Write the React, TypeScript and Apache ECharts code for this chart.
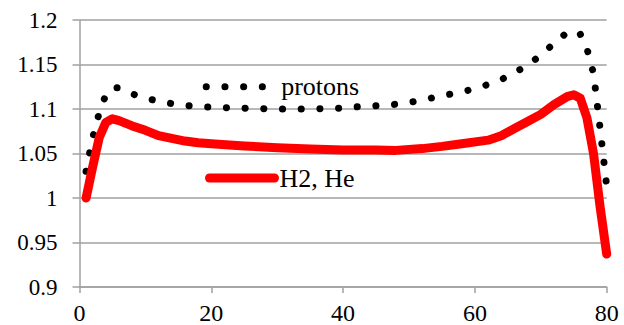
import React, { useEffect, useRef } from "react";
import * as echarts from "echarts";

const protonsX = [1, 2, 3, 4, 5, 6, 8, 10, 12, 14, 16, 20, 25, 30, 35, 40, 43, 46, 49, 52, 55, 58, 61, 64, 67, 70, 72, 74, 75, 76, 77, 78, 79, 80];
const protonsY = [1.03, 1.068, 1.096, 1.116, 1.124, 1.124, 1.117, 1.112, 1.109, 1.106, 1.104, 1.102, 1.101, 1.1, 1.1, 1.101, 1.103, 1.104, 1.106, 1.11, 1.115, 1.119, 1.125, 1.133, 1.145, 1.16, 1.174, 1.186, 1.188, 1.184, 1.168, 1.14, 1.078, 1.013];

const heX = [1, 2, 3, 4, 5, 6, 8, 10, 12, 14, 16, 18, 20, 25, 30, 35, 40, 45, 48, 52, 55, 58, 62, 64, 66, 68, 70, 72, 74, 75, 76, 77, 78, 79, 80];
const heY = [1.0, 1.035, 1.068, 1.085, 1.089, 1.087, 1.081, 1.076, 1.07, 1.067, 1.064, 1.062, 1.061, 1.0585, 1.0565, 1.055, 1.054, 1.054, 1.0535, 1.0555, 1.058, 1.061, 1.065, 1.07, 1.078, 1.086, 1.094, 1.105, 1.114, 1.116, 1.112, 1.09, 1.05, 0.99, 0.937];

const seriesNames = ["protons", "H2, He"];
const xTicks = [0, 20, 40, 60, 80];
const yTicks = [0.9, 0.95, 1, 1.05, 1.1, 1.15, 1.2];

const FONT = "Liberation Serif, Times New Roman, serif";
const GRID_COLOR = "#a0a0a0";

export default function App() {
  const ref = useRef<HTMLDivElement>(null);
  useEffect(() => {
    if (!ref.current) return;
    const chart = echarts.init(ref.current, null, { renderer: "svg" });
    chart.setOption({
      animation: false,
      grid: { left: 79.5, right: 17.3, top: 20, bottom: 37.3 },
      xAxis: {
        type: "value",
        min: xTicks[0],
        max: xTicks[xTicks.length - 1],
        interval: 20,
        axisLine: { show: true, lineStyle: { color: GRID_COLOR, width: 1.5 } },
        axisTick: { show: true, length: 6, lineStyle: { color: GRID_COLOR, width: 1.5 } },
        splitLine: { show: false },
        axisLabel: {
          fontFamily: FONT,
          fontSize: 24,
          color: "#000",
          margin: 14,
          formatter: "{a|{value}}",
          rich: { a: { fontFamily: FONT, fontSize: 24, color: "#000" } },
        },
      },
      yAxis: {
        type: "value",
        min: yTicks[0],
        max: yTicks[yTicks.length - 1],
        interval: 0.05,
        axisLine: { show: true, lineStyle: { color: GRID_COLOR, width: 1.5 } },
        axisTick: { show: true, length: 7, lineStyle: { color: GRID_COLOR, width: 1.5 } },
        splitLine: { show: true, lineStyle: { color: GRID_COLOR, width: 1.5 } },
        axisLabel: {
          fontFamily: FONT,
          fontSize: 23,
          color: "#000",
          margin: 22,
          formatter: "{a|{value}}",
          rich: { a: { fontFamily: FONT, fontSize: 23, color: "#000" } },
        },
      },
      legend: [
        {
          data: [seriesNames[0]],
          left: 202.7,
          top: 73.7,
          padding: 0,
          itemWidth: 70,
          itemHeight: 14,
          selectedMode: false,
          lineStyle: { width: 7 },
          itemStyle: { opacity: 0, color: "rgba(0,0,0,0)", borderWidth: 0 },
          textStyle: { fontFamily: FONT, fontSize: 26, color: "#000" },
        },
        {
          data: [seriesNames[1]],
          left: 205,
          top: 165,
          padding: 0,
          itemWidth: 65,
          itemHeight: 14,
          selectedMode: false,
          lineStyle: { width: 9 },
          itemStyle: { opacity: 0, color: "rgba(0,0,0,0)", borderWidth: 0 },
          textStyle: { fontFamily: FONT, fontSize: 26, color: "#000" },
        },
      ],
      series: [
        {
          name: seriesNames[0],
          type: "line",
          symbol: "none",
          showSymbol: false,
          data: protonsX.map((x, i) => [x, protonsY[i]]),
          lineStyle: { color: "#000", width: 7, type: [0.1, 18.6], cap: "round", join: "round" },
          itemStyle: { color: "#000" },
        },
        {
          name: seriesNames[1],
          type: "line",
          symbol: "none",
          showSymbol: false,
          data: heX.map((x, i) => [x, heY[i]]),
          lineStyle: { color: "#ff0000", width: 9, cap: "round", join: "round" },
          itemStyle: { color: "#ff0000" },
        },
      ],
    });
    return () => chart.dispose();
  }, []);
  return <div ref={ref} style={{ width: 624, height: 325, position: "absolute", left: 0, top: 0 }} />;
}
